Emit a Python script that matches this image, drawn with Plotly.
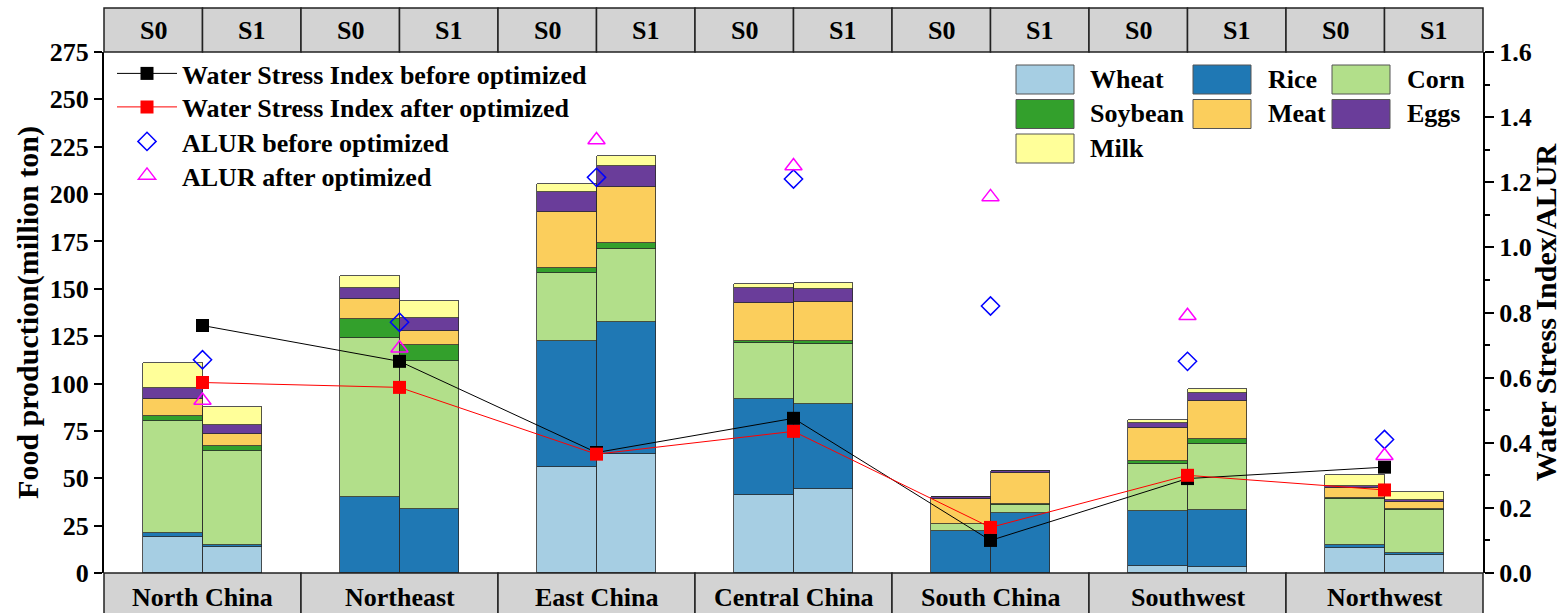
import plotly.graph_objects as go

# ---- data -------------------------------------------------------------
regions = ["North China", "Northeast", "East China", "Central China",
           "South China", "Southwest", "Northwest"]
scenarios = ["S0", "S1"]
foods = ["Wheat", "Rice", "Corn", "Soybean", "Meat", "Eggs", "Milk"]

# food production (million ton), scenario S0
wheat_s0 = [19.2, 0.0, 56.1, 41.3, 0.2, 3.7, 13.4]
rice_s0 = [2.1, 40.0, 66.2, 50.4, 22.0, 29.2, 1.4]
corn_s0 = [59.1, 84.0, 36.2, 29.5, 3.7, 24.6, 24.4]
soybean_s0 = [2.6, 10.1, 2.3, 1.1, 0.2, 1.8, 0.6]
meat_s0 = [8.8, 10.4, 29.9, 20.4, 12.8, 17.1, 4.9]
eggs_s0 = [6.0, 6.1, 10.4, 7.6, 1.1, 2.6, 1.1]
milk_s0 = [12.9, 6.2, 4.2, 2.2, 0.2, 1.8, 6.1]

# food production (million ton), scenario S1
wheat_s1 = [13.5, 0.0, 62.6, 44.3, 0.2, 3.4, 9.3]
rice_s1 = [1.3, 33.6, 69.7, 44.7, 31.3, 29.9, 1.3]
corn_s1 = [49.6, 78.5, 38.6, 31.9, 4.4, 34.8, 22.5]
soybean_s1 = [2.6, 8.2, 3.5, 1.6, 0.3, 2.5, 0.5]
meat_s1 = [6.5, 7.6, 29.5, 20.4, 16.7, 20.4, 3.9]
eggs_s1 = [4.4, 6.9, 11.1, 7.0, 0.8, 3.8, 1.0]
milk_s1 = [9.9, 8.8, 5.3, 3.0, 0.1, 2.2, 4.1]

# water stress index and ALUR (right axis)
wsi_before = [0.76, 0.65, 0.37, 0.475, 0.10, 0.29, 0.325]
wsi_after = [0.585, 0.57, 0.365, 0.435, 0.14, 0.30, 0.255]
alur_before = [0.655, 0.77, 1.215, 1.21, 0.82, 0.65, 0.41]
alur_after = [0.53, 0.69, 1.33, 1.25, 1.155, 0.79, 0.36]

# ---- styling ----------------------------------------------------------
FONT = "Liberation Serif"
food_colors = ["#a6cee3", "#1f78b4", "#b2df8a", "#33a02c",
               "#fbce5c", "#6a3d9a", "#ffff99"]
STRIP_FILL = "#d3d3d3"

W, H = 1562, 613
ML, MR, MT, MB = 104, 79, 52, 40
PW, PH = W - ML - MR, H - MT - MB


def px_x(px):
    """Horizontal pixel position -> paper coordinate."""
    return (px - ML) / PW


def px_y(py):
    """Vertical pixel position -> paper coordinate."""
    return (H - MB - py) / PH


BAR_W = 0.3
centers = list(range(len(regions)))

s0_series = [wheat_s0, rice_s0, corn_s0, soybean_s0, meat_s0, eggs_s0, milk_s0]
s1_series = [wheat_s1, rice_s1, corn_s1, soybean_s1, meat_s1, eggs_s1, milk_s1]

fig = go.Figure()

for offset, series, scen in [(-BAR_W / 2, s0_series, "S0"),
                             (BAR_W / 2, s1_series, "S1")]:
    for name, vals, col in zip(foods, series, food_colors):
        fig.add_trace(go.Bar(
            x=[c + offset for c in centers], y=vals, width=BAR_W,
            name=f"{name} {scen}", marker=dict(color=col,
                                              line=dict(color="#2a2a2a", width=0.8)),
            showlegend=False, yaxis="y"))

# each index series gets its own one-row legend so the rows sit tightly
fig.add_trace(go.Scatter(
    x=centers, y=wsi_before, yaxis="y2", mode="lines+markers",
    name="Water Stress Index before optimized", legend="legend",
    line=dict(color="black", width=1),
    marker=dict(symbol="square", size=13, color="black")))
fig.add_trace(go.Scatter(
    x=centers, y=wsi_after, yaxis="y2", mode="lines+markers",
    name="Water Stress Index after optimized", legend="legend2",
    line=dict(color="#ff0000", width=1),
    marker=dict(symbol="square", size=13, color="#ff0000")))
fig.add_trace(go.Scatter(
    x=centers, y=alur_before, yaxis="y2", mode="markers",
    name="ALUR before optimized", legend="legend3",
    marker=dict(symbol="diamond-open", size=14, color="#0000ff",
                line=dict(width=1.5, color="#0000ff"))))
fig.add_trace(go.Scatter(
    x=centers, y=alur_after, yaxis="y2", mode="markers",
    name="ALUR after optimized", legend="legend4",
    marker=dict(symbol="triangle-up-open", size=15, color="#ff00ff",
                line=dict(width=1.5, color="#ff00ff"))))

shapes = []
annotations = []

# scenario strip above the plot
n_cells = len(regions) * len(scenarios)
top_y1 = 1 + 44 / PH
for k in range(n_cells):
    shapes.append(dict(type="rect", xref="paper", yref="paper",
                       x0=k / n_cells, x1=(k + 1) / n_cells, y0=1, y1=top_y1,
                       fillcolor=STRIP_FILL, line=dict(color="#222", width=1.5),
                       layer="above"))
    annotations.append(dict(xref="paper", yref="paper",
                            x=(k + 0.5) / n_cells, y=1 + 21 / PH,
                            text=scenarios[k % len(scenarios)], showarrow=False,
                            xanchor="center", yanchor="middle",
                            font=dict(family=FONT, size=26, color="black",
                                      weight="bold")))

# region strip below the plot
for i, reg in enumerate(regions):
    shapes.append(dict(type="rect", xref="paper", yref="paper",
                       x0=i / len(regions), x1=(i + 1) / len(regions),
                       y0=-60 / PH, y1=0,
                       fillcolor=STRIP_FILL, line=dict(color="#222", width=1.5),
                       layer="above"))
    annotations.append(dict(xref="paper", yref="paper",
                            x=(i + 0.5) / len(regions), y=-24 / PH,
                            text=reg, showarrow=False,
                            xanchor="center", yanchor="middle",
                            font=dict(family=FONT, size=26, color="black",
                                      weight="bold")))

# food colour key (three columns)
key_cols_px = [1016, 1193, 1332]
key_text_px = [1088, 1266, 1405]
key_rows_px = [79.5, 114, 148.5]
SW_W, SW_H = 58, 29
for k, (name, col) in enumerate(zip(foods, food_colors)):
    r, c = divmod(k, 3)
    cy = key_rows_px[r]
    shapes.append(dict(type="rect", xref="paper", yref="paper",
                       x0=px_x(key_cols_px[c]), x1=px_x(key_cols_px[c] + SW_W),
                       y0=px_y(cy + SW_H / 2), y1=px_y(cy - SW_H / 2),
                       fillcolor=col, line=dict(color="#555", width=1)))
    annotations.append(dict(xref="paper", yref="paper",
                            x=px_x(key_text_px[c]), y=px_y(cy),
                            text=name, showarrow=False,
                            xanchor="left", yanchor="middle",
                            font=dict(family=FONT, size=26, color="black",
                                      weight="bold")))

tick_font = dict(family=FONT, size=26, color="black", weight="bold")
title_font = dict(family=FONT, size=30, color="black", weight="bold")
legend_font = dict(family=FONT, size=26, color="black", weight="bold")


def legend_row(center_px):
    return dict(x=px_x(112), y=px_y(center_px - 25), xanchor="left",
                yanchor="top", bgcolor="rgba(0,0,0,0)", itemwidth=60,
                font=legend_font)


legend_rows_px = [75, 108.5, 143, 177]

fig.update_layout(
    width=W, height=H, autosize=False,
    margin=dict(l=ML, r=MR, t=MT, b=MB, pad=0, autoexpand=False),
    paper_bgcolor="white", plot_bgcolor="white",
    barmode="stack", bargap=0,
    font=dict(family=FONT, color="black"),
    shapes=shapes, annotations=annotations,
    xaxis=dict(range=[-0.5, len(regions) - 0.5], showticklabels=False,
               ticks="", showline=False, zeroline=False, showgrid=False,
               automargin=False),
    yaxis=dict(range=[0, 275], tick0=0, dtick=25, ticks="outside",
               ticklen=8, tickwidth=1.5, tickcolor="black",
               showline=True, linewidth=2, linecolor="black",
               showgrid=False, zeroline=False, tickfont=tick_font,
               automargin=False,
               title=dict(text="Food production(million ton)",
                          font=title_font, standoff=2)),
    yaxis2=dict(range=[0, 1.6], tick0=0, dtick=0.2, tickformat=".1f",
                overlaying="y", side="right", ticks="outside",
                ticklen=9, tickwidth=1.5, tickcolor="black",
                minor=dict(dtick=0.1, ticks="outside", ticklen=5,
                           tickwidth=1.5, tickcolor="black"),
                showline=True, linewidth=2, linecolor="black",
                showgrid=False, zeroline=False, tickfont=tick_font,
                automargin=False,
                title=dict(text="Water Stress Index/ALUR",
                           font=title_font, standoff=14)),
    legend=legend_row(legend_rows_px[0]),
    legend2=legend_row(legend_rows_px[1]),
    legend3=legend_row(legend_rows_px[2]),
    legend4=legend_row(legend_rows_px[3]),
)

fig.write_html("out.html")
